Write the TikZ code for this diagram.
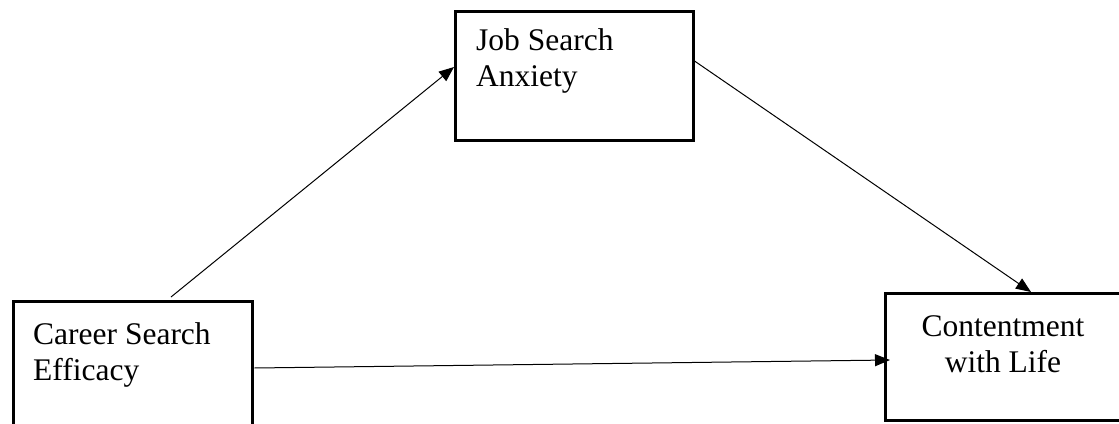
\documentclass[tikz,border=0pt]{standalone}
\usepackage{fontspec}
\setmainfont{Liberation Serif}
\usetikzlibrary{arrows.meta}
\begin{document}
\begin{tikzpicture}[x=1pt,y=-1pt,
  box/.style={draw=black,line width=2.5pt,rectangle,inner sep=0pt,anchor=north west},
  lbl/.style={inner sep=0pt,font=\fontsize{31.5}{36}\selectfont},
  conn/.style={line width=1pt,-{Triangle[length=15pt,width=12pt]}}]
\clip (0,0) rectangle (1119,423);
\fill[white] (0,0) rectangle (1119,423);
\node[box,minimum width=238pt,minimum height=129pt] (job) at (454,10) {};
\node[box,minimum width=239pt,minimum height=130pt] (career) at (12,300) {};
\node[box,minimum width=245pt,minimum height=127pt] (cont) at (884,292) {};
\node[lbl,anchor=base west,align=left] (tjob) at (476,86) {Job Search\\Anxiety};
\node[lbl,anchor=base west,align=left] (tcar) at (33,380) {Career Search\\Efficacy};
\node[lbl,anchor=base,align=center] (tcon) at (1003,372) {Contentment\\with Life};
\draw[conn] ([xshift=159pt,yshift=3pt]career.north west) -- ([yshift=-57pt]job.north west);
\draw[conn] ([yshift=-51pt]job.north east) -- ([xshift=147pt]cont.north west);
\draw[conn] ([xshift=1pt,yshift=-68pt]career.north east) -- ([xshift=6pt,yshift=-68pt]cont.north west);
\end{tikzpicture}
\end{document}
